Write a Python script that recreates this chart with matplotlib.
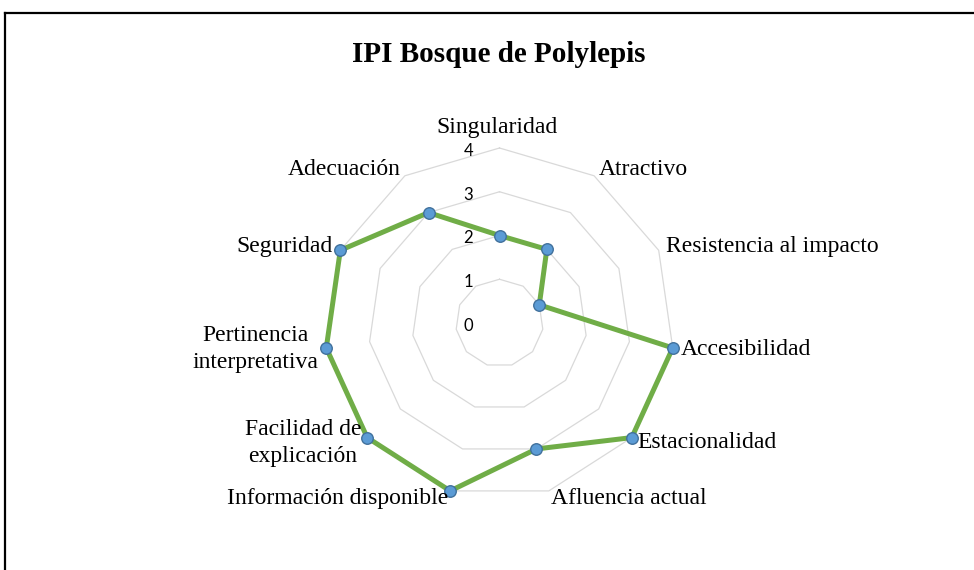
import numpy as np
import matplotlib
matplotlib.use('Agg')
import matplotlib.pyplot as plt
from matplotlib.lines import Line2D

W, H = 974, 570

categories = ['Singularidad', 'Atractivo', 'Resistencia al impacto', 'Accesibilidad',
              'Estacionalidad', 'Afluencia actual', 'Información disponible',
              'Facilidad de\nexplicación', 'Pertinencia\ninterpretativa',
              'Seguridad', 'Adecuación']
values = [2, 2, 1, 4, 4, 3, 4, 4, 4, 4, 3]
rings = [0, 1, 2, 3, 4]
title = 'IPI Bosque de Polylepis'

SERIF = 'Liberation Serif'
GRID = '#d9d9d9'
LINE = '#70ad47'
MFACE = '#5b9bd5'
MEDGE = '#41719c'

n = len(categories)
angles = np.arange(n) * 2 * np.pi / n
ang_c = np.append(angles, angles[0])

fig = plt.figure(figsize=(W / 100, H / 100), dpi=100)

# chart frame (cropped on the right and bottom)
fig.add_artist(Line2D([5 / W, 5 / W], [0, 1 - 13 / H], color='black', lw=1.6))
fig.add_artist(Line2D([5 / W, 1], [1 - 13 / H, 1 - 13 / H], color='black', lw=1.6))

fig.text(499 / W, 1 - 55 / H, title, ha='center', va='center',
         fontsize=21, fontweight='bold', family=SERIF)

# radar area: centre (499.5, 323) px, radius 175 px
cx, cy, R = 499.5, 323, 175
ax = fig.add_axes([(cx - R) / W, (H - cy - R) / H, 2 * R / W, 2 * R / H],
                  projection='polar')
ax.set_theta_offset(np.pi / 2)
ax.set_theta_direction(-1)
ax.set_ylim(0, 4)
ax.set_xticks([])
ax.set_yticks([])
ax.grid(False)
ax.spines['polar'].set_visible(False)
ax.patch.set_visible(False)

for k in rings[1:]:
    ax.plot(ang_c, [k] * (n + 1), color=GRID, lw=0.9, zorder=1, clip_on=False)

vals_c = values + values[:1]
ax.plot(ang_c, vals_c, color=LINE, lw=3.6, zorder=2, solid_joinstyle='round',
        clip_on=False)
ax.plot(angles, values, 'o', ms=8.3, mfc=MFACE, mec=MEDGE, mew=1.0, zorder=3,
        clip_on=False)

# radial value labels
for k in rings:
    ax.annotate(str(k), xy=(0, k), xytext=(-31, -3), textcoords='offset pixels',
                ha='center', va='center', fontsize=12, family='Lato')

# category labels
for a, lab in zip(angles, categories):
    s, c = np.sin(a), np.cos(a)
    if abs(s) < 0.1:
        ha, va = 'center', 'bottom'
        off = (-3, 10)
    else:
        ha = 'left' if s > 0 else 'right'
        va = 'center'
        off = (8 * s, 8 * c)
    ax.annotate(lab, xy=(a, 4), xytext=off, textcoords='offset pixels',
                ha=ha, va=va, fontsize=17, family=SERIF,
                multialignment='center', linespacing=1.35,
                annotation_clip=False)

fig.savefig('out.png', dpi=100)
